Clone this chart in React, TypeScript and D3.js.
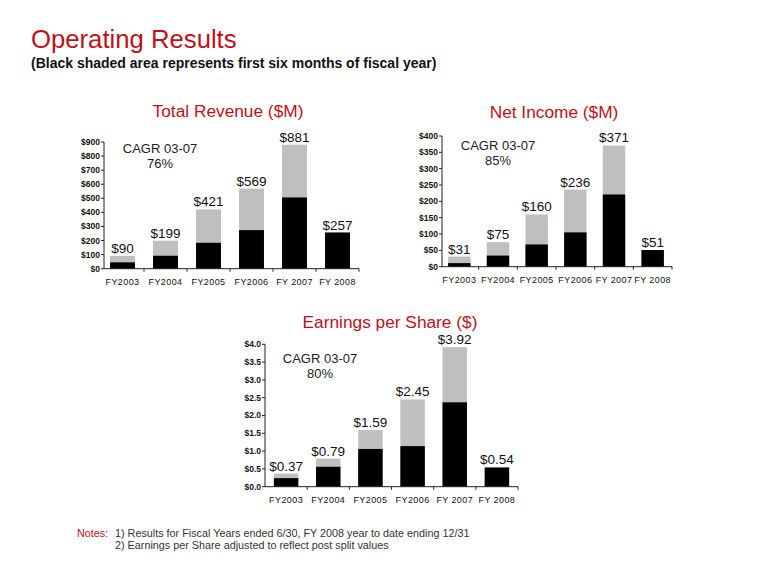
import React from "react";
import * as d3 from "d3";

const categories = ["FY2003", "FY2004", "FY2005", "FY2006", "FY 2007", "FY 2008"];

const revenueTotal = [90, 199, 421, 569, 881, 257];
const revenueFirstHalf = [45, 92, 184, 274, 506, 257];
const revenueTicks = [0, 100, 200, 300, 400, 500, 600, 700, 800, 900];

const incomeTotal = [31, 75, 160, 236, 371, 51];
const incomeFirstHalf = [11, 34, 68, 105, 221, 51];
const incomeTicks = [0, 50, 100, 150, 200, 250, 300, 350, 400];

const epsTotal = [0.37, 0.79, 1.59, 2.45, 3.92, 0.54];
const epsFirstHalf = [0.24, 0.56, 1.06, 1.14, 2.37, 0.54];
const epsTicks = [0, 0.5, 1.0, 1.5, 2.0, 2.5, 3.0, 3.5, 4.0];

const RED = "#C0101A";
const GRAY = "#BFBFBF";
const FONT = "'Liberation Sans', Arial, sans-serif";

type ChartProps = {
  title: string;
  titleX: number;
  titleY: number;
  cagr: string[];
  cagrX: number;
  cagrY: number;
  totals: number[];
  firstHalf: number[];
  ticks: number[];
  tickFmt: (v: number) => string;
  valFmt: (v: number) => string;
  x0: number;
  x1: number;
  yBottom: number;
  yTop: number;
  yMax: number;
  axisEnd: number;
  axisStart: number;
};

function Chart(p: ChartProps) {
  const x = d3.scaleBand<string>().domain(categories).range([p.x0, p.x1]).padding(0);
  const y = d3.scaleLinear().domain([0, p.yMax]).range([p.yBottom, p.yTop]);
  const bw = x.bandwidth() * 0.58;
  const boundaries = categories.map((c) => x(c)!).concat([p.x1]).slice(1);
  return (
    <g fontFamily={FONT}>
      <text x={p.titleX} y={p.titleY} textAnchor="middle" fontSize={17.3} fill={RED}>
        {p.title}
      </text>
      {p.cagr.map((t, i) => (
        <text key={i} x={p.cagrX} y={p.cagrY + i * 15} textAnchor="middle" fontSize={13} fill="#222">
          {t}
        </text>
      ))}
      {categories.map((c, i) => {
        const cx = x(c)! + x.bandwidth() / 2;
        return (
          <g key={c}>
            <rect x={cx - bw / 2} y={y(p.totals[i])} width={bw} height={y(0) - y(p.totals[i])} fill={GRAY} />
            <rect x={cx - bw / 2} y={y(p.firstHalf[i])} width={bw} height={y(0) - y(p.firstHalf[i])} fill="#000" />
            <text x={cx} y={y(p.totals[i]) - 3} textAnchor="middle" fontSize={13.5} fill="#111">
              {p.valFmt(p.totals[i])}
            </text>
            <text x={cx} y={y(0) + 16.5} textAnchor="middle" fontSize={9} letterSpacing={0.4} fill="#111">
              {c}
            </text>
          </g>
        );
      })}
      <line x1={p.axisStart} x2={p.axisStart} y1={y(0)} y2={y(p.yMax)} stroke="#222" strokeWidth={1} />
      <line x1={p.axisStart} x2={p.axisEnd} y1={y(0)} y2={y(0)} stroke="#222" strokeWidth={1} />
      {p.ticks.map((t) => (
        <g key={t}>
          <line x1={p.axisStart - 3} x2={p.axisStart} y1={y(t)} y2={y(t)} stroke="#222" />
          <text
            x={p.axisStart - 4}
            y={y(t)}
            dy="0.35em"
            textAnchor="end"
            fontSize={8.5}
            fontWeight="bold"
            fill="#111"
          >
            {p.tickFmt(t)}
          </text>
        </g>
      ))}
      {boundaries.map((b, i) => (
        <line key={i} x1={b} x2={b} y1={y(0)} y2={y(0) + 3} stroke="#222" />
      ))}
    </g>
  );
}

export default function App() {
  return (
    <svg width={780} height={587} style={{ position: "absolute", left: 0, top: 0, background: "#fff" }}>
      <rect x={0} y={0} width={780} height={587} fill="#fff" />
      <text x={31} y={48} fontFamily={FONT} fontSize={25.7} fill={RED}>
        Operating Results
      </text>
      <text x={31} y={68} fontFamily={FONT} fontSize={14} fontWeight="bold" fill="#111">
        (Black shaded area represents first six months of fiscal year)
      </text>

      <Chart
        title="Total Revenue ($M)"
        titleX={228}
        titleY={117}
        cagr={["CAGR 03-07", "76%"]}
        cagrX={160}
        cagrY={153}
        totals={revenueTotal}
        firstHalf={revenueFirstHalf}
        ticks={revenueTicks}
        tickFmt={(v) => "$" + v}
        valFmt={(v) => "$" + v}
        x0={101}
        x1={359}
        axisStart={104}
        axisEnd={359}
        yBottom={268.7}
        yTop={142}
        yMax={900}
      />
      <Chart
        title="Net Income ($M)"
        titleX={554}
        titleY={118}
        cagr={["CAGR 03-07", "85%"]}
        cagrX={498}
        cagrY={150}
        totals={incomeTotal}
        firstHalf={incomeFirstHalf}
        ticks={incomeTicks}
        tickFmt={(v) => "$" + v}
        valFmt={(v) => "$" + v}
        x0={440}
        x1={672}
        axisStart={442}
        axisEnd={672}
        yBottom={266.7}
        yTop={136}
        yMax={400}
      />
      <Chart
        title="Earnings per Share ($)"
        titleX={390}
        titleY={328}
        cagr={["CAGR 03-07", "80%"]}
        cagrX={320}
        cagrY={363}
        totals={epsTotal}
        firstHalf={epsFirstHalf}
        ticks={epsTicks}
        tickFmt={(v) => "$" + v.toFixed(1)}
        valFmt={(v) => "$" + v.toFixed(2)}
        x0={265}
        x1={518}
        axisStart={265}
        axisEnd={518}
        yBottom={486.7}
        yTop={344.3}
        yMax={4}
      />

      <g fontFamily={FONT} fontSize={10.8}>
        <text x={77} y={537} fill={RED}>Notes:</text>
        <text x={115} y={537} fill="#333">
          1) Results for Fiscal Years ended 6/30, FY 2008 year to date ending 12/31
        </text>
        <text x={115} y={549} fill="#333">
          2) Earnings per Share adjusted to reflect post split values
        </text>
      </g>
    </svg>
  );
}
